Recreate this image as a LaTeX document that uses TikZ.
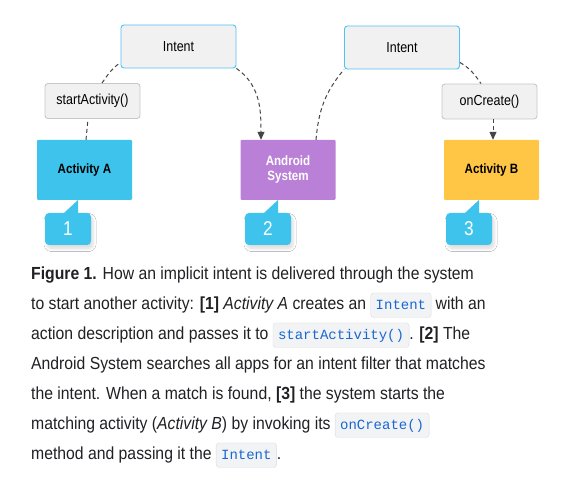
\documentclass[tikz,border=0pt]{standalone}
\usepackage{fontspec}
\setmainfont{Liberation Sans}[FakeStretch=0.86]
\newfontfamily\capfont{Liberation Sans}[FakeStretch=0.90]
\setmonofont{Liberation Mono}
\usepackage{xcolor}
\usepackage{tikz}
\usetikzlibrary{
  positioning,
  arrows.meta,
  shadows.blur
}
\definecolor{boxgray}{HTML}{F1F1F1}
\definecolor{intentblue}{HTML}{4FC3F7}
\definecolor{methodgray}{HTML}{C8C8C8}
\definecolor{actcyan}{HTML}{3EC4EC}
\definecolor{syspurple}{HTML}{BA7FD6}
\definecolor{actyellow}{HTML}{FFC544}
\definecolor{linegray}{HTML}{454545}
\definecolor{captext}{HTML}{202124}
\definecolor{chipfill}{HTML}{F1F3F4}
\definecolor{chipline}{HTML}{DADCE0}
\definecolor{chiptext}{HTML}{1967D2}
\tikzset{
  chipbox/.style={draw=chipline, fill=chipfill, rounded corners=3pt,
    anchor=base, outer sep=0pt, inner xsep=5pt, inner ysep=4pt,
    text height=13pt, text depth=3.5pt, text=chiptext,
    font=\ttfamily\fontsize{14}{16}\selectfont}
}
\newcommand{\codechip}[1]{\tikz[baseline=(chip.base)]\node[chipbox] (chip) {#1};}

\begin{document}
\begin{tikzpicture}[
  x=1pt, y=1pt,
  font=\fontsize{14.5}{17}\selectfont,
  msgbox/.style={draw=intentblue, fill=boxgray, rounded corners=3pt,
    line width=0.9pt, minimum width=115pt, minimum height=43pt},
  callbox/.style={draw=methodgray, fill=boxgray, rounded corners=3pt,
    line width=0.9pt, minimum width=95pt, minimum height=35pt},
  actbox/.style={minimum width=95pt, minimum height=60pt, rounded corners=1pt,
    align=center, font=\fontsize{13.5}{16}\selectfont\bfseries},
  badge/.style={fill=actcyan, rounded corners=4pt, minimum width=46pt,
    minimum height=32pt, text=white, font=\fontsize{20}{24}\selectfont,
    blur shadow={shadow xshift=2pt, shadow yshift=-3.5pt, shadow opacity=14,
      shadow blur radius=3pt, shadow blur steps=8}},
  conn/.style={draw=linegray, line width=1pt, dash pattern=on 4pt off 3pt},
  tip/.style={-{Triangle[length=8pt, width=7pt]}}
]
  \useasboundingbox[fill=white] (0,0) rectangle (579,500);

  \node[msgbox] (intentA) at (178.5,453.5) {Intent};
  \node[msgbox] (intentB) at (402,452.5) {Intent};
  \node[callbox] (startAct) at (92.5,399) {startActivity()};
  \node[callbox] (onCreate) at (489.5,398.5) {onCreate()};

  \node[actbox, fill=actcyan] (actA) at (84.5,330) {Activity A};
  \node[actbox, fill=syspurple, text=white] (android) at (288,330) {Android\\[-1pt]System};
  \node[actbox, fill=actyellow] (actB) at (491.5,330) {Activity B};

  % numbered callouts under the three boxes
  \foreach \n/\x in {1/68, 2/268, 3/469} {
    \node[badge] (badge\n) at (\x,271) {\n};
    \fill[actcyan] ([xshift=-27pt]badge\n.north east)
      -- ([shift={(-13pt,13pt)}]badge\n.north east)
      -- ([xshift=-13pt]badge\n.north east) -- cycle;
  }

  \draw[conn] ([xshift=1.5pt]actA.north) -- ([xshift=-4.5pt]startAct.south);
  \draw[conn] ([xshift=9.5pt]startAct.north) to[out=55, in=215] ([yshift=-16pt]intentA.west);
  \draw[conn, tip] (intentA.south east) to[out=-35, in=90] ([xshift=-27pt]android.north);
  \draw[conn] ([xshift=28pt]android.north) to[out=85, in=230] (intentB.south west);
  \draw[conn] ([yshift=-15pt]intentB.east) to[out=-30, in=125] ([xshift=-8.5pt]onCreate.north);
  \draw[conn, tip] ([xshift=3.5pt]onCreate.south) -- ([xshift=1.5pt]actB.north);

  % the node's base is the baseline of its last line
  \node[anchor=base west, align=left, inner sep=0pt, text=captext,
    font=\capfont\fontsize{17.5}{30}\selectfont] (caption) at (31,40)
    {\textbf{Figure 1.} How an implicit intent is delivered through the system\\
     to start another activity: \textbf{[1]} \textit{Activity A} creates an \codechip{Intent} with an\\
     action description and passes it to \codechip{startActivity()}. \textbf{[2]} The\\
     Android System searches all apps for an intent filter that matches\\
     the intent. When a match is found, \textbf{[3]} the system starts the\\
     matching activity (\textit{Activity B}) by invoking its \codechip{onCreate()}\\
     method and passing it the \codechip{Intent}.};
\end{tikzpicture}
\end{document}
